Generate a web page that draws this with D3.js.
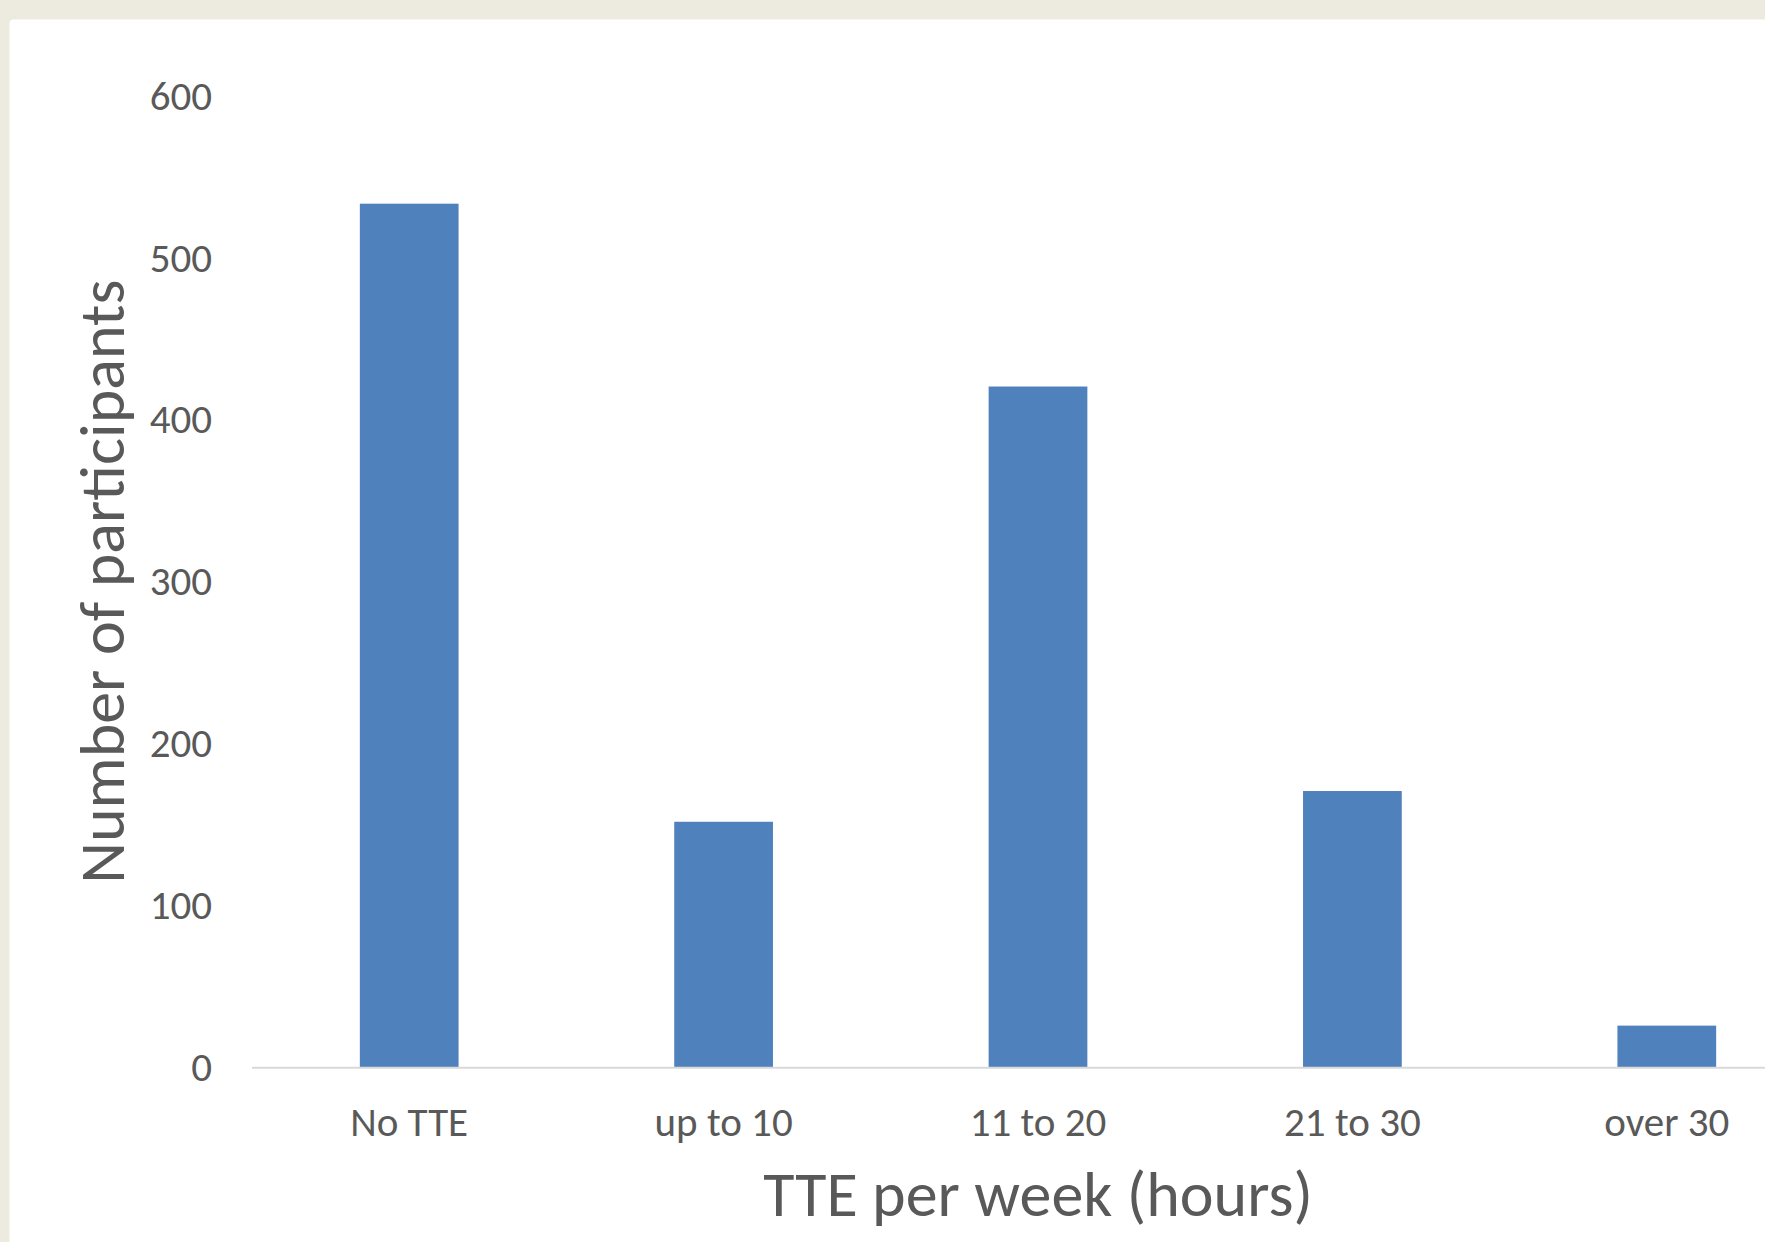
<!DOCTYPE html>
<html>
<head>
<meta charset="utf-8">
<script src="https://cdn.jsdelivr.net/npm/d3@7/dist/d3.min.js"></script>
<style>
  html, body { margin: 0; padding: 0; background: #EDEBE0; }
  svg { display: block; }
  text { font-family: Carlito, Lato, "Open Sans", sans-serif; fill: #595959; }
</style>
</head>
<body>
<script>
// Weekly TTE hours vs. number of participants
const categories = ["No TTE", "up to 10", "11 to 20", "21 to 30", "over 30"];
const participants = [534, 152, 421, 171, 26];
const yTicks = [0, 100, 200, 300, 400, 500, 600];
const xTitle = "TTE per week (hours)";
const yTitle = "Number of participants";

const W = 1765, H = 1242;
const svg = d3.select("body").append("svg").attr("width", W).attr("height", H);

// beige frame with a white card
svg.append("rect").attr("width", W).attr("height", H).attr("fill", "#EDEBE0");
svg.append("rect").attr("x", 9.5).attr("y", 19.5).attr("width", W).attr("height", H)
  .attr("rx", 4).attr("fill", "#FFFFFF");

const plotLeft = 252, step = 314.4;
const x = d3.scaleBand()
  .domain(categories)
  .range([plotLeft, plotLeft + step * categories.length])
  .paddingInner(0.686)
  .paddingOuter(0.343);

const y = d3.scaleLinear().domain([0, 600]).range([1067.7, 96.9]);

// bars
svg.append("g").selectAll("rect")
  .data(categories.map((c, i) => ({ c, v: participants[i] })))
  .join("rect")
  .attr("x", d => x(d.c))
  .attr("width", x.bandwidth())
  .attr("y", d => y(d.v))
  .attr("height", d => y(0) - y(d.v))
  .attr("fill", "#4F81BD");

// category axis
const xAxis = svg.append("g").attr("transform", `translate(0,${y(0)})`)
  .call(d3.axisBottom(x).tickSize(0).tickPadding(0));
xAxis.select(".domain").attr("stroke", "#D9D9D9").attr("stroke-width", 2)
  .attr("d", `M${plotLeft},0H${W + 20}`);
xAxis.selectAll(".tick text")
  .attr("y", 68).attr("dy", null)
  .style("font-size", "41px").style("fill", "#595959");

// value axis (labels only)
const yAxis = svg.append("g").attr("transform", `translate(212,0)`)
  .call(d3.axisLeft(y).tickValues(yTicks).tickSize(0).tickPadding(0));
yAxis.select(".domain").remove();
yAxis.selectAll(".tick text")
  .attr("x", 0).attr("dy", "0.3em")
  .style("font-size", "41px").style("fill", "#595959");

// axis titles
svg.append("text")
  .attr("x", (x.range()[0] + x.range()[1]) / 2)
  .attr("y", 1216)
  .attr("text-anchor", "middle")
  .style("font-size", "64px")
  .text(xTitle);

svg.append("text")
  .attr("transform", `translate(124,581.5) rotate(-90)`)
  .attr("text-anchor", "middle")
  .style("font-size", "64px")
  .text(yTitle);
</script>
</body>
</html>
